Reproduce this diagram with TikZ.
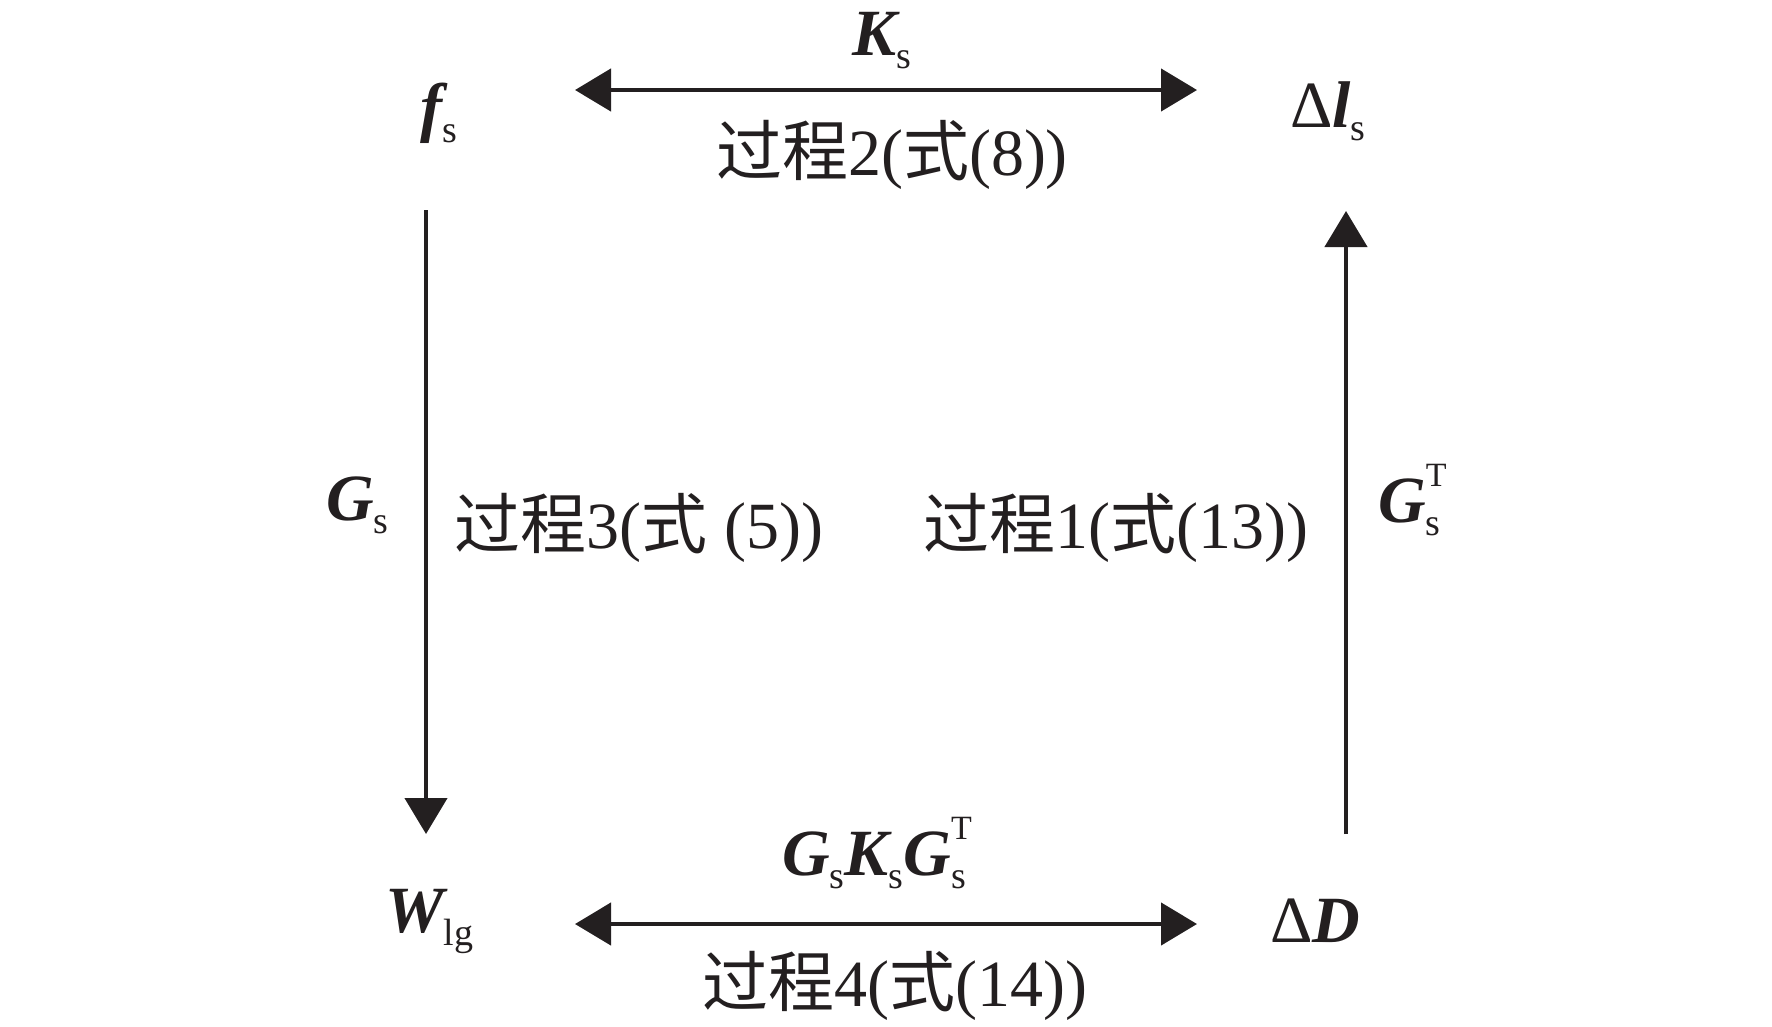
\documentclass[tikz,border=0pt]{standalone}
\usepackage{fontspec}
\setmainfont{Liberation Serif}
\newfontfamily\cjk{Noto Sans CJK SC}
\usetikzlibrary{arrows.meta}
\definecolor{ink}{RGB}{35,31,32}
\newcommand{\mb}[1]{{\bfseries\itshape #1}}
\newcommand{\subs}[1]{\raisebox{-13pt}{\fontsize{38}{38}\selectfont #1}}
\newcommand{\subsup}[2]{\rlap{\raisebox{-13pt}{\fontsize{38}{38}\selectfont #1}}\raisebox{36pt}{\fontsize{34}{34}\selectfont #2}}
\newcommand{\gc}[1]{{\cjk #1}}
\newcommand{\cn}[1]{#1}
\tikzset{
  lbl/.style={font=\fontsize{66}{70}\selectfont, inner sep=0pt, text=ink},
  lw/.style={lbl, anchor=base west},
  lc/.style={lbl, anchor=base},
  dblarr/.style={draw=ink, line width=4.5pt, {Triangle[length=36pt,width=42pt]}-{Triangle[length=36pt,width=42pt]}},
  varr/.style={draw=ink, line width=4.5pt, -{Triangle[length=36pt,width=42pt]}}
}
\begin{document}
\begin{tikzpicture}[x=1pt,y=-1pt]
\useasboundingbox[fill=white] (0,0) rectangle (1772,1026);
% corner nodes
\node[lw] (fs)  at (420,129) {\mb{f}\subs{s}};
\node[lw] (dls) at (1290,127) {Δ\mb{l}\subs{s}};
\node[lw] (wlg) at (385,932) {\mb{W}\subs{lg}};
\node[lw] (dd)  at (1270,942) {Δ\mb{D}};
% arrow labels
\node[lw] (ks)  at (852,55) {\mb{K}\subs{s}};
\node[lw] (gkg) at (782,875) {\mb{G}\subs{s}\mb{K}\subs{s}\mb{G}\subsup{s}{T}};
\node[lw] (gsl) at (326,520) {\mb{G}\subs{s}};
\node[lw] (gsr) at (1378,522) {\mb{G}\subsup{s}{T}};
\node[lc] (p2) at (892,175) {\cn{\gc{过程}2(\gc{式}(8))}};
\node[lc] (p3) at (639,548) {\cn{\gc{过程}3(\gc{式} (5))}};
\node[lc] (p1) at (1116,548) {\cn{\gc{过程}1(\gc{式}(13))}};
\node[lc] (p4) at (895,1006) {\cn{\gc{过程}4(\gc{式}(14))}};
% connector end points
\coordinate (t1) at (575,90);
\coordinate (t2) at (1197,90);
\coordinate (b1) at (575,924);
\coordinate (b2) at (1197,924);
\coordinate (l1) at (426,210);
\coordinate (l2) at (426,834);
\coordinate (r1) at (1346,834);
\coordinate (r2) at (1346,211);
\draw[dblarr] (t1) -- (t2);
\draw[dblarr] (b1) -- (b2);
\draw[varr] (l1) -- (l2);
\draw[varr] (r1) -- (r2);
\end{tikzpicture}
\end{document}
